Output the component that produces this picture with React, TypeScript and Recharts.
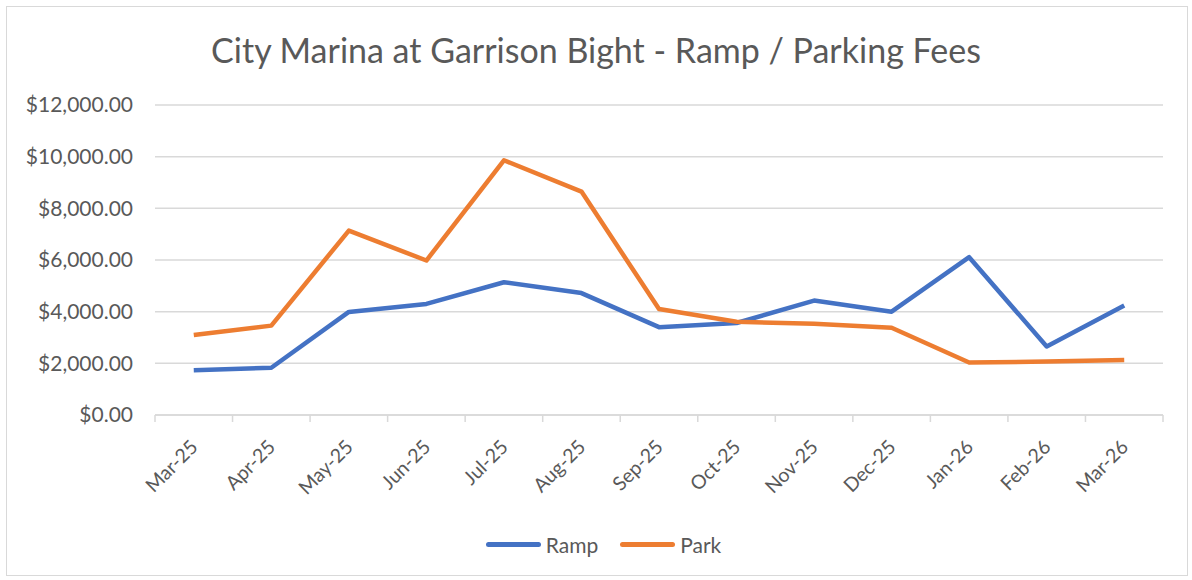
import React from "react";
import {
  LineChart,
  Line,
  XAxis,
  YAxis,
  CartesianGrid,
  Legend,
} from "recharts";

const months = [
  "Mar-25", "Apr-25", "May-25", "Jun-25", "Jul-25", "Aug-25", "Sep-25",
  "Oct-25", "Nov-25", "Dec-25", "Jan-26", "Feb-26", "Mar-26",
];
const ramp = [1730, 1830, 3990, 4300, 5140, 4720, 3400, 3560, 4430, 4000, 6110, 2650, 4240];
const park = [3100, 3460, 7140, 5980, 9860, 8650, 4100, 3610, 3530, 3380, 2030, 2070, 2130];
const yTicks = [0, 2000, 4000, 6000, 8000, 10000, 12000];

const data = months.map((m, i) => ({ month: m, Ramp: ramp[i], Park: park[i] }));

const W = 1192;
const H = 580;
const M = { top: 105, right: 29, left: 0, bottom: 21 };
const Y_W = 155;
const BAND = (W - M.right - M.left - Y_W) / months.length;
const FONT = "Lato, 'Open Sans', sans-serif";
const GRAY = "#595959";

const fmt = (v: number) =>
  "$" + v.toLocaleString("en-US", { minimumFractionDigits: 2, maximumFractionDigits: 2 });

const XTick = (props: any) => {
  const { x, y, payload, index } = props;
  const last = index === months.length - 1;
  const tx = x;
  const ty = y + 28;
  return (
    <g>
      <line x1={x - BAND / 2} x2={x - BAND / 2} y1={y} y2={y + 7} stroke="#d9d9d9" strokeWidth={1.5} />
      {last && (
        <line x1={x + BAND / 2} x2={x + BAND / 2} y1={y} y2={y + 7} stroke="#d9d9d9" strokeWidth={1.5} />
      )}
      <text
        x={tx}
        y={ty}
        textAnchor="end"
        dominantBaseline="central"
        transform={`rotate(-45 ${tx} ${ty})`}
        fill={GRAY}
        fontSize={19.5}
        fontFamily={FONT}
      >
        {payload.value}
      </text>
    </g>
  );
};

const LegendBox = () => (
  <div
    style={{
      display: "flex",
      justifyContent: "center",
      alignItems: "center",
      height: 30,
      fontFamily: FONT,
      fontSize: 21,
      color: GRAY,
      gap: 22,
      paddingLeft: 44,
    }}
  >
    {[
      { name: "Ramp", color: "#4472C4" },
      { name: "Park", color: "#ED7D31" },
    ].map((it) => (
      <div key={it.name} style={{ display: "flex", alignItems: "center", gap: 5 }}>
        <div style={{ width: 55, height: 5, borderRadius: 3, background: it.color }} />
        <span>{it.name}</span>
      </div>
    ))}
  </div>
);

export default function App() {
  return (
    <div style={{ position: "absolute", left: 0, top: 0, width: W, height: H, background: "#fff" }}>
      <div
        style={{
          position: "absolute",
          left: 6,
          top: 6,
          width: W - 10,
          height: H - 10,
          border: "1px solid #d9d9d9",
          boxSizing: "border-box",
        }}
      />
      <div
        style={{
          position: "absolute",
          top: 28,
          left: 0,
          width: W,
          textAlign: "center",
          fontFamily: FONT,
          fontSize: 34,
          color: GRAY,
          lineHeight: "44px",
        }}
      >
        City Marina at Garrison Bight - Ramp / Parking Fees
      </div>
      <div style={{ position: "absolute", left: 0, top: 0 }}>
        <LineChart width={W} height={H} data={data} margin={M}>
          <CartesianGrid vertical={false} stroke="#d9d9d9" strokeWidth={1.5} />
          <XAxis
            dataKey="month"
            scale="band"
            height={114}
            interval={0}
            tickSize={0}
            tickMargin={0}
            axisLine={{ stroke: "#d9d9d9", strokeWidth: 1.5 }}
            tick={<XTick />}
          />
          <YAxis
            width={Y_W}
            domain={[0, 12000]}
            ticks={yTicks}
            tickFormatter={fmt}
            axisLine={false}
            tickLine={false}
            tickSize={0}
            tickMargin={22}
            tick={{ fill: GRAY, fontSize: 21, fontFamily: FONT }}
          />
          <Legend verticalAlign="bottom" content={<LegendBox />} />
          <Line
            dataKey="Ramp"
            stroke="#4472C4"
            strokeWidth={4.5}
            dot={false}
            strokeLinejoin="round"
            isAnimationActive={false}
          />
          <Line
            dataKey="Park"
            stroke="#ED7D31"
            strokeWidth={4.5}
            dot={false}
            strokeLinejoin="round"
            isAnimationActive={false}
          />
        </LineChart>
      </div>
    </div>
  );
}
